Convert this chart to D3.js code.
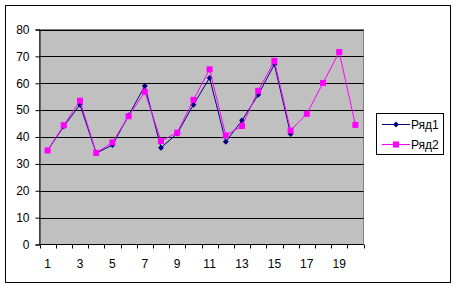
<!doctype html>
<html>
<head>
<meta charset="utf-8">
<title>Ряд1 / Ряд2</title>
<script src="https://d3js.org/d3.v7.min.js"></script>
<style>
  body { margin: 0; background: #fff; }
  svg text { font-family: "Liberation Sans", Arial, sans-serif; font-size: 12px; fill: #000; }
</style>
</head>
<body>
<script>
// --- data ---
var categories = d3.range(1, 21);
var xTickLabels = [1, 3, 5, 7, 9, 11, 13, 15, 17, 19];
var yTicks = [0, 10, 20, 30, 40, 50, 60, 70, 80];
var series1 = [35, 44, 52, 34, 37, 48, 59, 36, 41.3, 52, 62, 38.2, 46.2, 55.7, 67, 41.1];
var series2 = [35, 44.4, 53.5, 34.1, 38, 47.7, 56.8, 38.5, 41.6, 53.8, 65.2, 40.6, 44.1, 57.2, 68.3, 42.4, 48.6, 60.1, 71.6, 44.5];
var seriesNames = ["Ряд1", "Ряд2"];

var W = 456, H = 288;
var plot = { left: 39.5, top: 29.5, right: 363.5, bottom: 244.5 };

var svg = d3.select("body").append("svg").attr("width", W).attr("height", H);

// chart frame
svg.append("rect").attr("x", 5.5).attr("y", 5.5).attr("width", 445).attr("height", 277)
    .attr("fill", "#fff").attr("stroke", "#000").attr("stroke-width", 1);

var x = d3.scaleBand().domain(categories).range([plot.left, plot.right]);
var y = d3.scaleLinear().domain([0, 80]).range([plot.bottom, plot.top]);

// plot area
svg.append("rect").attr("x", plot.left).attr("y", plot.top)
    .attr("width", plot.right - plot.left).attr("height", plot.bottom - plot.top)
    .attr("fill", "#c0c0c0").attr("stroke", "#808080");

// gridlines
svg.append("g").selectAll("line").data(yTicks.slice(1)).enter().append("line")
    .attr("x1", plot.left).attr("x2", plot.right)
    .attr("y1", d => Math.round(y(d)) + 0.5).attr("y2", d => Math.round(y(d)) + 0.5)
    .attr("stroke", "#000");

// y axis
var yAxis = svg.append("g").attr("transform", "translate(" + plot.left + ",0)")
    .call(d3.axisLeft(y).tickValues(yTicks).tickSize(4).tickPadding(6));
yAxis.select(".domain").attr("stroke", "#000");
yAxis.selectAll(".tick line").attr("stroke", "#000");
yAxis.selectAll("text").style("font-size", "12px");

// x axis (ticks at category boundaries)
var xg = svg.append("g");
xg.append("line").attr("x1", plot.left).attr("x2", plot.right)
    .attr("y1", plot.bottom).attr("y2", plot.bottom).attr("stroke", "#000");
var bounds = categories.map(d => x(d)).concat([plot.right]);
xg.selectAll("line.tk").data(bounds).enter().append("line").attr("class", "tk")
    .attr("x1", d => Math.round(d) + 0.5).attr("x2", d => Math.round(d) + 0.5)
    .attr("y1", plot.bottom).attr("y2", plot.bottom + 4).attr("stroke", "#000");
xg.selectAll("text").data(xTickLabels).enter().append("text")
    .attr("x", d => x(d) + x.bandwidth() / 2).attr("y", plot.bottom + 23.5)
    .attr("text-anchor", "middle").style("font-size", "12px").text(d => d);

var line = d3.line().x((d, i) => x(categories[i]) + x.bandwidth() / 2).y(d => y(d));

// series 1
svg.append("path").datum(series1).attr("d", line).attr("fill", "none")
    .attr("stroke", "#000080").attr("stroke-width", 1);
svg.append("g").selectAll("path").data(series1).enter().append("path")
    .attr("d", d3.symbol(d3.symbolDiamond2, 22))
    .attr("transform", (d, i) => "translate(" + (x(categories[i]) + x.bandwidth() / 2) + "," + y(d) + ")")
    .attr("fill", "#000080");

// series 2
svg.append("path").datum(series2).attr("d", line).attr("fill", "none")
    .attr("stroke", "#ff00ff").attr("stroke-width", 1);
svg.append("g").selectAll("rect").data(series2).enter().append("rect")
    .attr("x", (d, i) => x(categories[i]) + x.bandwidth() / 2 - 3)
    .attr("y", d => y(d) - 3).attr("width", 6).attr("height", 6)
    .attr("fill", "#ff00ff");

// legend
var lg = svg.append("g");
lg.append("rect").attr("x", 376.5).attr("y", 113.5).attr("width", 67).attr("height", 41)
    .attr("fill", "#fff").attr("stroke", "#000");
var colors = ["#000080", "#ff00ff"];
seriesNames.forEach(function(name, i) {
    var cy = 124 + i * 20;
    lg.append("line").attr("x1", 382).attr("x2", 410).attr("y1", cy + 0.5).attr("y2", cy + 0.5)
        .attr("stroke", colors[i]);
    if (i === 0) {
        lg.append("path").attr("d", d3.symbol(d3.symbolDiamond2, 22))
            .attr("transform", "translate(396," + (cy + 0.5) + ")").attr("fill", colors[i]);
    } else {
        lg.append("rect").attr("x", 393).attr("y", cy - 2.5).attr("width", 6).attr("height", 6)
            .attr("fill", colors[i]);
    }
    lg.append("text").attr("x", 411).attr("y", cy + 4.5).style("font-size", "12px").text(name);
});
</script>
</body>
</html>
